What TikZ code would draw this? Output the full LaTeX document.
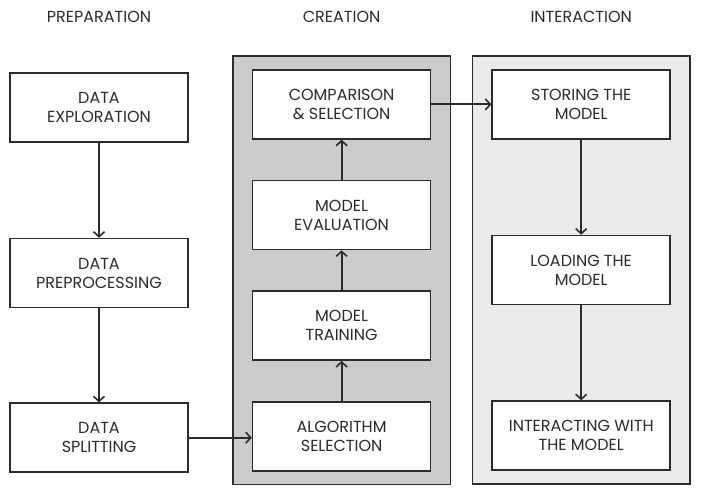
\documentclass[tikz,border=0pt]{standalone}
\usepackage{fontspec}
\setmainfont{Poppins}
\usepackage{tikz}
\usetikzlibrary{positioning,arrows.meta,fit,backgrounds}
\definecolor{ink}{HTML}{2B2B2B}
\definecolor{darkpanel}{HTML}{CCCCCC}
\definecolor{lightpanel}{HTML}{EBEBEB}

\begin{document}
\begin{tikzpicture}[node distance=63pt, every node/.style={font=\fontsize{16}{19}\selectfont, text=ink}, st/.style={draw=ink, line width=1.6pt, fill=white, minimum width=178pt, minimum height=69pt, align=center, inner sep=2pt}, panel/.style={draw=ink, line width=1.6pt, inner xsep=19pt, inner ysep=13pt}, arr/.style={-{Straight Barb[length=5pt,width=11pt,line width=1.6pt]}, draw=ink, line width=1.8pt}]
\useasboundingbox (0,0) rectangle (704pt,-492pt);
\node[st] (explore) at (99pt,-107.5pt) {DATA\\EXPLORATION};
\node[st, below=95pt of explore] (prep) {DATA\\PREPROCESSING};
\node[st, below=94pt of prep] (split) {DATA\\SPLITTING};
\node[st, right=63pt of split, yshift=1.5pt] (algo) {ALGORITHM\\SELECTION};
\node[st, above=40pt of algo] (train) {MODEL\\TRAINING};
\node[st, above=40pt of train] (eval) {MODEL\\EVALUATION};
\node[st, above=40pt of eval] (compare) {COMPARISON\\\& SELECTION};
\node[st, right=60pt of compare] (store) {STORING THE\\MODEL};
\node[st, below=95pt of store] (load) {LOADING THE\\MODEL};
\node[st, below=95pt of load] (interact) {INTERACTING WITH\\THE MODEL};
\begin{scope}[on background layer]
\node[panel, fill=darkpanel, fit=(compare)(algo)] (creation) {};
\node[panel, fill=lightpanel, fit=(store)(interact)] (interaction) {};
\end{scope}
\node at (99pt,-17pt) (preptitle) {PREPARATION};
\node at (creation.north |- preptitle) (creatitle) {CREATION};
\node at (interaction.north |- preptitle) (inttitle) {INTERACTION};
\draw[arr] (explore)--(prep); \draw[arr] (prep)--(split); \draw[arr] (split.east)--(split.east -| algo.west); \draw[arr] (algo)--(train); \draw[arr] (train)--(eval); \draw[arr] (eval)--(compare); \draw[arr] (compare)--(store); \draw[arr] (store)--(load); \draw[arr] (load)--(interact);
\end{tikzpicture}
\end{document}
